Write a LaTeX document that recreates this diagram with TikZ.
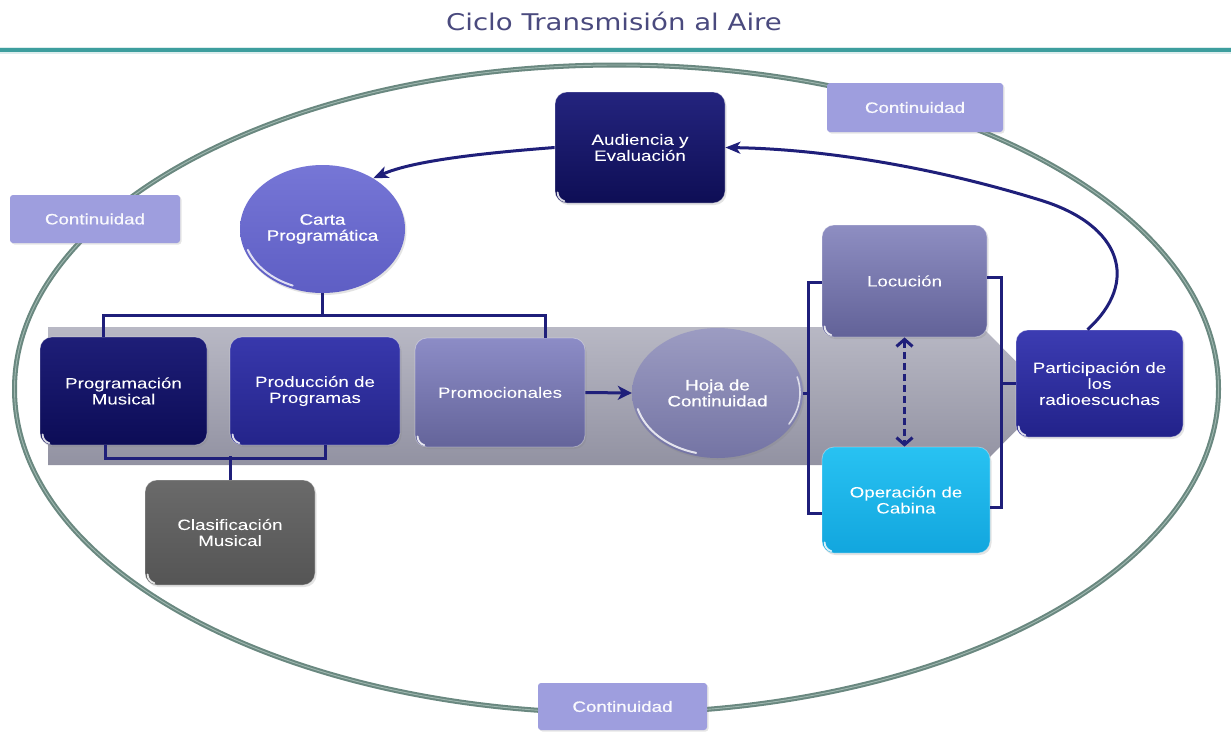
\documentclass[tikz,border=0pt]{standalone}
\usepackage{fontspec}
\setmainfont{Liberation Sans}
\newfontfamily\titlefont[FakeStretch=1.2]{DejaVu Sans}
\newfontfamily\boxfont[FakeStretch=1.25, FakeBold=0.8]{Liberation Sans}
\usetikzlibrary{arrows.meta,shapes.geometric,shadows,calc}

\definecolor{linkc}{HTML}{1F1F7A}
\definecolor{ringc}{HTML}{6A8880}
\definecolor{ringhl}{HTML}{9FB8B0}
\definecolor{titlec}{HTML}{4A4A7E}
\definecolor{rulec}{HTML}{3D9E9E}
\definecolor{contc}{HTML}{9E9EDE}
\definecolor{bandtop}{HTML}{B8B8C4}
\definecolor{bandbot}{HTML}{9292A2}
% box gradients (top / bottom)
\definecolor{audT}{HTML}{24247E}\definecolor{audB}{HTML}{0E0E55}
\definecolor{carT}{HTML}{7676D6}\definecolor{carB}{HTML}{5E5EC4}
\definecolor{prgT}{HTML}{1E1E78}\definecolor{prgB}{HTML}{0C0C56}
\definecolor{prdT}{HTML}{3838AC}\definecolor{prdB}{HTML}{24248A}
\definecolor{proT}{HTML}{8C8CC6}\definecolor{proB}{HTML}{64649A}
\definecolor{hojT}{HTML}{9C9CC2}\definecolor{hojB}{HTML}{7474A4}
\definecolor{locT}{HTML}{8E8EC2}\definecolor{locB}{HTML}{626298}
\definecolor{opeT}{HTML}{28C2F2}\definecolor{opeB}{HTML}{12A6DE}
\definecolor{parT}{HTML}{3C3CB2}\definecolor{parB}{HTML}{22228A}
\definecolor{claT}{HTML}{6A6A6A}\definecolor{claB}{HTML}{555555}

\newcommand{\gloss}[1]{%
  \draw[white, line width=1.8pt, line cap=round, opacity=0.85]
    ([shift={(3pt,11pt)}]#1.south west) arc[start angle=180, end angle=255, radius=9pt];}

\begin{document}
\begin{tikzpicture}[x=1pt, y=-1pt,
  box/.style={rectangle, rounded corners=12pt, inner sep=2pt, align=center,
    font=\boxfont\fontsize{15}{16}\selectfont, text=white,
    draw=white, draw opacity=0.35, line width=0.8pt,
    drop shadow={opacity=0.22, shadow xshift=1.5pt, shadow yshift=-2pt}},
  oval/.style={ellipse, inner sep=2pt, align=center,
    font=\boxfont\fontsize{15}{16}\selectfont, text=white,
    drop shadow={opacity=0.22, shadow xshift=1.5pt, shadow yshift=-2pt}},
  tag/.style={rectangle, rounded corners=3pt, fill=contc, align=center,
    font=\boxfont\fontsize{15}{16}\selectfont, text=white!94!contc,
    drop shadow={opacity=0.2, shadow xshift=1.5pt, shadow yshift=-1.5pt}},
  link/.style={draw=linkc, line width=3pt},
  tip/.style={-{Stealth[length=15pt, width=12pt, inset=4pt]}},
]
\useasboundingbox (0,0) rectangle (1231,732);
\fill[white] (0,0) rectangle (1231,732);

% title and rule
\node[font=\titlefont\fontsize{23}{26}\selectfont, text=titlec] (title) at (614,21) {Ciclo Transmisión al Aire};
\draw[rulec, line width=7pt, opacity=0.18] (0,50) -- (1231,50);
\draw[rulec, line width=3.5pt] (0,50) -- (1231,50);

% outer cycle
\draw[ringc, line width=5pt] (616.5,389) ellipse [x radius=602pt, y radius=324pt];
\draw[ringhl, line width=0.9pt] (616.5,389) ellipse [x radius=602pt, y radius=324pt];

% grey band behind the production row
\shade[top color=bandtop, bottom color=bandbot]
  (48,327) -- (982,327) -- (1050,396) -- (982,465) -- (48,465) -- cycle;

% nodes
\node[box, minimum width=170pt, minimum height=111pt, top color=audT, bottom color=audB] (aud) at (640,147.5) {Audiencia y\\Evaluación};
\node[oval, minimum width=165pt, minimum height=128pt, top color=carT, bottom color=carB] (carta) at (322.5,229) {Carta\\Programática};
\node[box, minimum width=167pt, minimum height=108pt, top color=prgT, bottom color=prgB] (prog) at (123.5,391) {Programación\\Musical};
\node[box, minimum width=170pt, minimum height=108pt, top color=prdT, bottom color=prdB] (prod) at (315,391) {Producción de\\Programas};
\node[box, minimum width=170pt, minimum height=109pt, top color=proT, bottom color=proB] (promo) at (500,392.5) {Promocionales};
\node[oval, minimum width=171pt, minimum height=130pt, top color=hojT, bottom color=hojB] (hoja) at (717.5,393) {Hoja de\\Continuidad};
\node[box, minimum width=165pt, minimum height=112pt, top color=locT, bottom color=locB] (loc) at (904.5,281) {Locución};
\node[box, minimum width=168pt, minimum height=106pt, top color=opeT, bottom color=opeB] (op) at (906,500) {Operación de\\Cabina};
\node[box, minimum width=167pt, minimum height=107pt, top color=parT, bottom color=parB] (part) at (1099.5,383.5) {Participación de\\los\\radioescuchas};
\node[box, minimum width=170pt, minimum height=105pt, top color=claT, bottom color=claB] (clas) at (230,532.5) {Clasificación\\Musical};

\node[tag, minimum width=170pt, minimum height=48pt] (cont1) at (95,219) {Continuidad};
\node[tag, minimum width=176pt, minimum height=49pt] (cont2) at (915,107.5) {Continuidad};
\node[tag, minimum width=169pt, minimum height=47pt] (cont3) at (622.5,706.5) {Continuidad};

% glossy highlights on the boxes
\foreach \n in {aud,prog,prod,promo,loc,op,part,clas} {\gloss{\n}}
\draw[white, line width=2pt, line cap=round, opacity=0.8]
  ([shift={({79.5pt*cos(200)},{61pt*sin(200)})}]carta.center) arc[start angle=200, end angle=248, x radius=79.5pt, y radius=61pt];
\draw[white, line width=2pt, line cap=round, opacity=0.8]
  ([shift={({82.5pt*cos(195)},{62pt*sin(195)})}]hoja.center) arc[start angle=195, end angle=255, x radius=82.5pt, y radius=62pt];
\draw[white, line width=1.6pt, line cap=round, opacity=0.7]
  ([shift={({82.5pt*cos(330)},{62pt*sin(330)})}]hoja.center) arc[start angle=330, end angle=375, x radius=82.5pt, y radius=62pt];

% connectors
\draw[link, tip] (aud.west) .. controls (470,154) and (410,162) .. (carta.45);
\draw[link, tip] ([xshift=-12pt]part.north) .. controls (1140,282) and (1122,225) .. (1040,200)
  .. controls (930,166) and (820,149) .. (aud.east);

\draw[link] (carta.south) -- ([yshift=-22pt]carta.south);
\draw[link] ([xshift=-20pt]prog.north) |- ([yshift=-22pt]carta.south) -| ([xshift=45pt]promo.north);

\draw[link] ([xshift=-18pt]prog.south) |- ([yshift=-13pt]prod.south) -- ([xshift=10pt, yshift=-13pt]prod.south) -- ([xshift=10pt]prod.south);
\draw[link] (clas.north) -- ++(0,-24);

\draw[link, -{Stealth[length=14pt, width=14pt, inset=4pt]}] (promo.east) -- (hoja.west);

\coordinate (lbt) at (808,282);
\coordinate (lbb) at (808,513);
\coordinate (rbt) at (1001,277);
\coordinate (rbb) at (1001,507);
\draw[link] (loc.west |- lbt) -- (lbt) -- (lbb) -- (op.west |- lbb);
\draw[link] (hoja.east) -- (hoja.east -| lbt);
\draw[link] (loc.east |- rbt) -- (rbt) -- (rbb) -- (op.east |- rbb);
\draw[link] (part.west) -- (part.west -| rbt);

\draw[link, line width=3.5pt, dash pattern=on 7pt off 4pt,
  {Straight Barb[length=7pt, width=16pt, line width=3pt]}-{Straight Barb[length=7pt, width=16pt, line width=3pt]}]
  (loc.south) -- (loc.south |- op.north);
\end{tikzpicture}
\end{document}
